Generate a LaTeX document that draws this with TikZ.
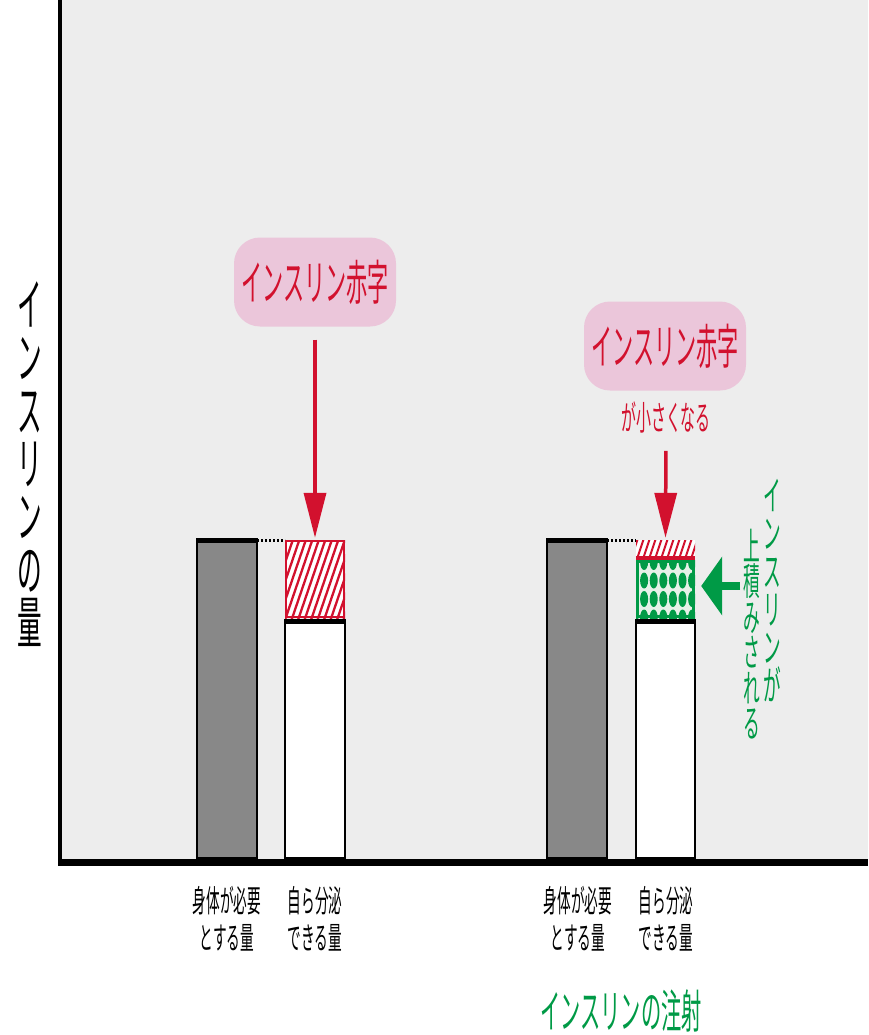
\documentclass[tikz,border=0pt]{standalone}
\usepackage{fontspec}
\newfontfamily\jpfont[FakeStretch=0.44]{Noto Sans CJK JP}
\usetikzlibrary{arrows.meta,positioning}
\definecolor{plotbg}{HTML}{EDEDED}
\definecolor{bargray}{HTML}{888888}
\definecolor{defred}{HTML}{D2112E}
\definecolor{notepink}{HTML}{EBC6DA}
\definecolor{injgreen}{HTML}{009A46}
\definecolor{injlight}{HTML}{E6F1E8}

\tikzset{
  needbar/.style={fill=bargray, draw=black, line width=2pt},
  ownbar/.style={fill=white, draw=black, line width=2pt},
  hatchline/.style={defred, line width=2.3pt},
  notebox/.style={fill=notepink, rounded corners=26pt, minimum width=162pt,
    minimum height=89pt, inner sep=0pt, text=defred,
    font=\jpfont\fontsize{48}{48}\selectfont},
  barlabel/.style={align=center, inner sep=0pt,
    font=\jpfont\fontsize{31}{37}\selectfont},
  vlabel/.style={align=center, inner sep=0pt},
  redarrow/.style={defred, line width=3.5pt, -{Triangle[length=45pt,width=22pt]}},
}

\begin{document}
\begin{tikzpicture}[x=1pt,y=-1pt]
\useasboundingbox (0,0) rectangle (868,1035);
% plot area and axes
\fill[plotbg] (60,0) rectangle (868,860);
\draw[line width=4pt] (60,0) -- (60,862);
\draw[line width=7pt] (58,862) -- (868,862);
\node[vlabel, font=\jpfont\fontsize{56}{53}\selectfont] (ylab) at (30,464)
  {イ\\ン\\ス\\リ\\ン\\の\\量};

% left group
\draw[needbar] (197,858) rectangle (257,540);
\draw[line width=5pt] (196,540) -- (258,540);
\draw[ownbar] (285,858) rectangle (345,622);
\draw[line width=3pt, dash pattern=on 2pt off 2pt] (257,540) -- (285,540);
\node[minimum width=60pt, minimum height=78pt, inner sep=0pt] (defA) at (315,579) {};
\begin{scope}
  \clip (285,540) rectangle (345,618);
  \fill[white] (285,540) rectangle (345,618);
  \foreach \i in {-6,...,10}
    \draw[hatchline] (285+\i*6.5,620) -- ++(28,-82);
\end{scope}
\draw[defred, line width=2.5pt] (286,541) rectangle (344,617);
\draw[line width=5pt] (284,621) -- (346,621);
\node[notebox] (noteA) at (315,282) {インスリン赤字};
\draw[redarrow, shorten <=13pt, shorten >=2pt] (noteA.south) -- (defA.north);

% right group
\draw[needbar] (547,858) rectangle (607,540);
\draw[line width=5pt] (546,540) -- (608,540);
\draw[ownbar] (636,858) rectangle (695,622);
\draw[line width=3pt, dash pattern=on 2pt off 2pt] (607,540) -- (636,540);
\node[minimum width=59pt, minimum height=20pt, inner sep=0pt] (defB) at (665.5,550) {};
\node[minimum width=59pt, minimum height=58pt, inner sep=0pt] (injB) at (665.5,589) {};
\begin{scope}
  \clip (636,540) rectangle (695,560);
  \fill[white] (636,540) rectangle (695,560);
  \foreach \i in {-2,...,10}
    \draw[hatchline, line width=2pt] (636+\i*6,562) -- ++(8,-24);
\end{scope}
\fill[defred] (636,556) rectangle (695,561);
\begin{scope}
  \clip (636,560) rectangle (695,618);
  \fill[injlight] (636,560) rectangle (695,618);
  \foreach \c in {0,...,6}
    \foreach \r in {0,...,3}
      \fill[injgreen] (634.5+\c*9.6,562+\r*18.5) ellipse (4 and 8);
\end{scope}
\draw[injgreen, line width=3pt] (637.5,561.5) rectangle (693.5,616.5);
\draw[line width=5pt] (635,621) -- (696,621);
\node[notebox] (noteB) at (665,346) {インスリン赤字};
\node[text=defred, font=\jpfont\fontsize{34}{34}\selectfont, inner sep=0pt]
  (smallB) at (666,417) {が小さくなる};
\draw[redarrow, shorten <=18pt, shorten >=2pt] (smallB.south) -- (defB.north);
\coordinate (pushB) at (740,586);
\draw[injgreen, line width=8pt, -{Triangle[length=21pt,width=58pt]}, shorten >=6pt]
  (pushB) -- (injB.east |- pushB);
\node[vlabel, text=injgreen, font=\jpfont\fontsize{40}{38}\selectfont]
  (injtxtA) at (772,591) {イ\\ン\\ス\\リ\\ン\\が};
\node[vlabel, text=injgreen, font=\jpfont\fontsize{38}{35.5}\selectfont]
  (injtxtB) at (752,634) {上\\積\\み\\さ\\れ\\る};

% bar labels
\node[barlabel] (needA) at (227,919) {身体が必要\\とする量};
\node[barlabel] (ownA) at (315,919) {自ら分泌\\できる量};
\node[barlabel] (needB) at (578,919) {身体が必要\\とする量};
\node[barlabel] (ownB) at (666,919) {自ら分泌\\できる量};
\node[text=injgreen, font=\jpfont\fontsize{46}{46}\selectfont, inner sep=0pt]
  (injcap) at (621,1011) {インスリンの注射};
\end{tikzpicture}
\end{document}
